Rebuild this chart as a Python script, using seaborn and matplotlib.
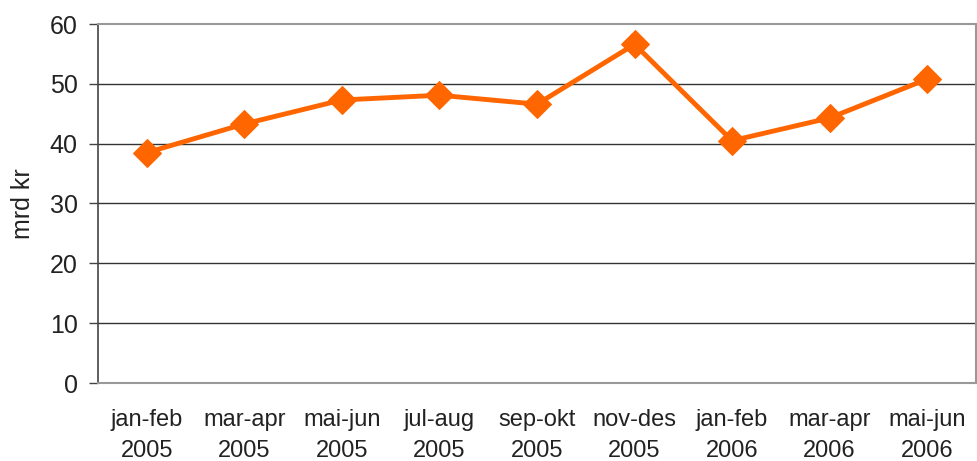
import numpy as np
import pandas as pd
import matplotlib
matplotlib.use("Agg")
import matplotlib.pyplot as plt
import seaborn as sns

periods = ["jan-feb\n2005", "mar-apr\n2005", "mai-jun\n2005", "jul-aug\n2005",
           "sep-okt\n2005", "nov-des\n2005", "jan-feb\n2006", "mar-apr\n2006",
           "mai-jun\n2006"]
values = [38.5, 43.3, 47.3, 48.1, 46.6, 56.6, 40.5, 44.3, 50.8]
yticks = [0, 10, 20, 30, 40, 50, 60]

sns.set_style("white")
plt.rcParams['font.family'] = ['Liberation Sans', 'DejaVu Sans']

df = pd.DataFrame({"pos": np.arange(len(periods)), "val": values})

fig = plt.figure(figsize=(9.77, 4.61), dpi=100)
ax = fig.add_axes([98 / 977, 1 - 383 / 461, (976 - 98) / 977, (383 - 24) / 461])

# horizontal gridlines between the axis limits
for y in yticks[1:-1]:
    ax.axhline(y, color="#333333", lw=1.0, zorder=1)

sns.lineplot(data=df, x="pos", y="val", ax=ax, color="#FF6600", lw=3.5,
             marker="D", markersize=14, markeredgecolor="#FF6600", zorder=3)

ax.set_xlim(-0.5, len(periods) - 0.5)
ax.set_ylim(0, 60)
ax.set_yticks(yticks)
ax.set_yticklabels([str(v) for v in yticks], fontsize=18, color="#222222")
ax.set_xticks(df["pos"])
ax.set_xticklabels(periods, fontsize=17, color="#222222", linespacing=1.5)
# tick marks sit on the category boundaries
ax.set_xticks(np.arange(-0.5, len(periods), 1.0), minor=True)
ax.tick_params(axis="x", which="major", length=0, pad=19)
ax.tick_params(axis="x", which="minor", length=6, color="#666666", width=1)
ax.tick_params(axis="y", length=6.5, color="#444444", width=1, pad=8, left=True)
ax.set_xlabel("")
ax.set_ylabel("mrd kr", fontsize=18, color="#222222")
ax.yaxis.set_label_coords(-0.072, 0.5)

for side in ["top", "right", "bottom"]:
    ax.spines[side].set_color("#999999")
    ax.spines[side].set_linewidth(1.5)
ax.spines["left"].set_color("#444444")
ax.spines["left"].set_linewidth(1.2)

fig.savefig("out.png", dpi=100)
